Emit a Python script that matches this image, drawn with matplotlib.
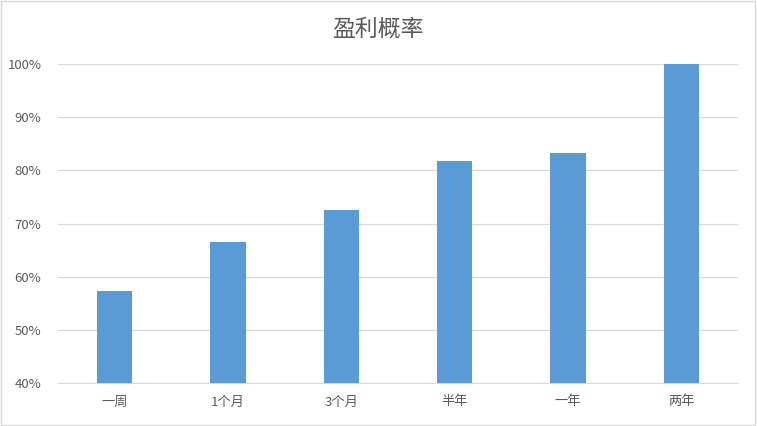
import numpy as np
import matplotlib.pyplot as plt
import matplotlib.patches as mpatches

plt.rcParams['font.family'] = ['Noto Sans CJK SC', 'DejaVu Sans']

categories = ["一周", "1个月", "3个月", "半年", "一年", "两年"]
win_rate = [57.3, 66.6, 72.6, 81.8, 83.3, 100.0]
yticks = [40, 50, 60, 70, 80, 90, 100]

fig = plt.figure(figsize=(7.57, 4.26), dpi=100)
ax = fig.add_axes([58 / 757, 1 - 383 / 426, 680 / 757, 319 / 426])

x = np.arange(len(categories))
ax.bar(x, win_rate, width=0.31, color="#5B9BD5", zorder=3)

ax.set_xlim(-0.5, len(categories) - 0.5)
ax.set_ylim(40, 100)
ax.set_yticks(yticks)
ax.set_yticklabels([f"{v}%" for v in yticks])
ax.set_xticks(x)
ax.set_xticklabels(categories)
ax.tick_params(axis="both", length=0, colors="#595959", labelsize=9.5)
ax.tick_params(axis="x", pad=9)
ax.tick_params(axis="y", pad=12)
ax.grid(axis="y", color="#D9D9D9", linewidth=0.9, zorder=0)
for s in ["top", "right", "left"]:
    ax.spines[s].set_visible(False)
ax.spines["bottom"].set_color("#D9D9D9")

fig.text(0.5, 1 - 29 / 426, "盈利概率", ha="center", va="center",
         fontsize=16.5, fontweight="light", color="#595959")

fig.patches.append(mpatches.Rectangle((0.001, 0.002), 0.997, 0.996,
                                      transform=fig.transFigure, fill=False,
                                      edgecolor="#D9D9D9", linewidth=1))

fig.savefig("out.png", dpi=100)
